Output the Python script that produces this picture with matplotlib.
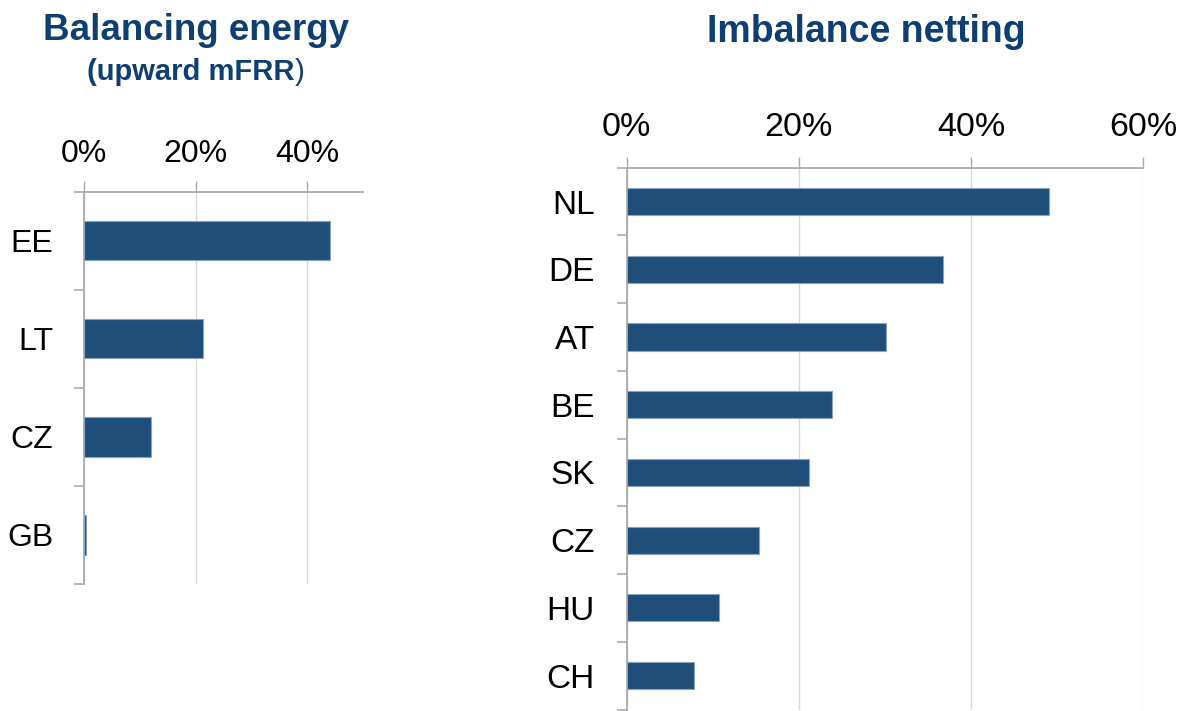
import matplotlib
matplotlib.use("Agg")
import matplotlib.pyplot as plt
from matplotlib.ticker import PercentFormatter, FixedLocator

plt.rcParams['font.family'] = ['Liberation Sans', 'DejaVu Sans']

# ---- data ----
be_countries = ['EE', 'LT', 'CZ', 'GB']
be_values = [44.1, 21.3, 12.0, 0.3]
be_ticks = [0, 20, 40]

in_countries = ['NL', 'DE', 'AT', 'BE', 'SK', 'CZ', 'HU', 'CH']
in_values = [49.1, 36.7, 30.1, 23.8, 21.2, 15.4, 10.7, 7.8]
in_ticks = [0, 20, 40, 60]

title_left = "Balancing energy"
subtitle_left = "(upward mFRR"
subtitle_close = ")"
title_right = "Imbalance netting"

BAR = '#1F4E79'
BAR_EDGE = '#8AA3BD'
TITLE = '#0E3F74'
SPINE = '#ABABAB'
GRID = '#D9D9D9'

W, H = 1180, 711
fig = plt.figure(figsize=(W / 100, H / 100), dpi=100)


def px_axes(x0, x1, ytop, ybot):
    return fig.add_axes([x0 / W, 1 - ybot / H, (x1 - x0) / W, (ybot - ytop) / H])


def style(ax, cats, vals, ticks, xmax, fs_tick, fs_cat, xpad, ypad):
    n = len(cats)
    ax.barh(range(n), vals, height=0.4, color=BAR, edgecolor=BAR_EDGE,
            linewidth=0.8, zorder=3)
    ax.set_ylim(n - 0.5, -0.5)
    ax.set_xlim(0, xmax)
    ax.xaxis.set_ticks_position('top')
    ax.xaxis.set_label_position('top')
    ax.set_xticks(ticks)
    ax.xaxis.set_major_formatter(PercentFormatter(xmax=100, decimals=0))
    ax.tick_params(axis='x', direction='out', length=8, width=1, color=SPINE,
                   labelsize=fs_tick, pad=xpad)
    ax.set_yticks(range(n))
    ax.set_yticklabels(cats)
    ax.yaxis.set_minor_locator(FixedLocator([i - 0.5 for i in range(n + 1)]))
    ax.tick_params(axis='y', which='major', length=0, labelsize=fs_cat, pad=ypad)
    ax.tick_params(axis='y', which='minor', length=7.5, width=1.2, color=SPINE)
    for s in ['right', 'bottom']:
        ax.spines[s].set_visible(False)
    for s in ['top', 'left']:
        ax.spines[s].set_color(SPINE)
        ax.spines[s].set_linewidth(1.3)
    ax.grid(axis='x', color=GRID, linewidth=1, zorder=0)
    ax.set_axisbelow(True)


ax1 = px_axes(84, 363, 191.7, 584)
style(ax1, be_countries, be_values, be_ticks, 50, 23, 23, 8.5, 22)

ax2 = px_axes(626.7, 1143.3, 167.7, 709.5)
style(ax2, in_countries, in_values, in_ticks, 60, 24.5, 24, 9.5, 23)

# titles
fig.text(196.5 / W, 1 - 31 / H, title_left, ha='center', va='center',
         fontsize=26.5, fontweight='bold', color=TITLE)
fig.text(866 / W, 1 - 32 / H, title_right, ha='center', va='center',
         fontsize=27, fontweight='bold', color=TITLE)

t1 = fig.text(0, 1 - 72 / H, subtitle_left, ha='left', va='center',
              fontsize=21, fontweight='bold', color=TITLE)
t2 = fig.text(0, 1 - 72 / H, subtitle_close, ha='left', va='center',
              fontsize=21, color=TITLE)
fig.canvas.draw()
r = fig.canvas.get_renderer()
w1 = t1.get_window_extent(r).width
w2 = t2.get_window_extent(r).width
x_start = 196 - (w1 + w2) / 2
t1.set_x(x_start / W)
t2.set_x((x_start + w1) / W)

fig.savefig('out.png', dpi=100, facecolor='white')
